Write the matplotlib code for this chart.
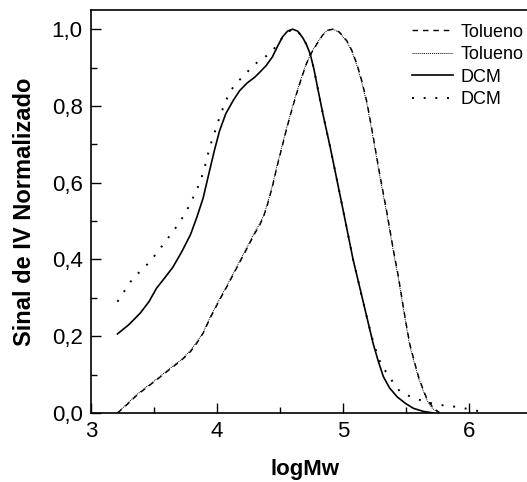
import matplotlib.pyplot as plt
from matplotlib.ticker import MultipleLocator, FuncFormatter

plt.rcParams['font.family'] = ['Liberation Sans', 'DejaVu Sans']

# DCM (linha cheia)
x_dcm1 = [3.21, 3.30, 3.39, 3.46, 3.52, 3.58, 3.65, 3.72, 3.79, 3.84, 3.89, 3.94, 3.98, 4.02,
          4.07, 4.13, 4.18, 4.24, 4.30, 4.34, 4.39, 4.44, 4.48, 4.52, 4.56, 4.60, 4.64, 4.68,
          4.71, 4.74, 4.77, 4.80, 4.84, 4.90, 4.95, 5.00, 5.04, 5.08, 5.12, 5.16, 5.20, 5.24,
          5.28, 5.32, 5.37, 5.43, 5.50, 5.56, 5.64, 5.72]
y_dcm1 = [0.206, 0.23, 0.26, 0.29, 0.325, 0.35, 0.38, 0.42, 0.465, 0.51, 0.56, 0.63, 0.685, 0.735,
          0.78, 0.815, 0.84, 0.86, 0.875, 0.888, 0.905, 0.928, 0.955, 0.98, 0.995, 1.0, 0.995, 0.978,
          0.96, 0.935, 0.895, 0.845, 0.78, 0.69, 0.61, 0.53, 0.465, 0.40, 0.345, 0.29, 0.235, 0.18,
          0.135, 0.095, 0.065, 0.042, 0.024, 0.012, 0.004, 0.0]

# DCM (pontilhado)
x_dcm2 = [3.21, 3.27, 3.33, 3.40, 3.47, 3.54, 3.61, 3.66, 3.71, 3.78, 3.83, 3.87, 3.91, 3.94,
          3.98, 4.02, 4.06, 4.10, 4.15, 4.20, 4.26, 4.32, 4.37, 4.42, 4.46, 4.50, 4.55, 4.60,
          4.64, 4.68, 4.71, 4.74, 4.77, 4.80, 4.84, 4.90, 4.95, 5.00, 5.04, 5.08, 5.12, 5.16,
          5.20, 5.24, 5.28, 5.31, 5.36, 5.40, 5.45, 5.52, 5.59, 5.68, 5.77, 5.90, 6.00, 6.09]
y_dcm2 = [0.29, 0.32, 0.35, 0.372, 0.395, 0.425, 0.455, 0.477, 0.50, 0.54, 0.575, 0.605, 0.65, 0.69,
          0.73, 0.77, 0.805, 0.836, 0.858, 0.875, 0.895, 0.914, 0.925, 0.937, 0.952, 0.97, 0.99, 1.0,
          0.995, 0.978, 0.96, 0.935, 0.895, 0.845, 0.78, 0.69, 0.61, 0.53, 0.465, 0.40, 0.345, 0.29,
          0.235, 0.185, 0.145, 0.12, 0.10, 0.078, 0.057, 0.045, 0.036, 0.027, 0.021, 0.016, 0.01, 0.004]

# Tolueno (tracejado)
x_tol1 = [3.21, 3.28, 3.36, 3.44, 3.52, 3.58, 3.65, 3.72, 3.79, 3.84, 3.89, 3.95, 4.02, 4.08,
          4.16, 4.24, 4.30, 4.34, 4.37, 4.40, 4.44, 4.47, 4.51, 4.55, 4.59, 4.63, 4.67, 4.71, 4.75,
          4.79, 4.84, 4.88, 4.92, 4.97, 5.03, 5.07, 5.11, 5.15, 5.19, 5.24, 5.29, 5.35, 5.40,
          5.44, 5.47, 5.50, 5.53, 5.57, 5.60, 5.64, 5.67, 5.72, 5.77]
y_tol1 = [0.0, 0.02, 0.045, 0.066, 0.086, 0.102, 0.12, 0.138, 0.16, 0.182, 0.208, 0.25, 0.294, 0.33,
          0.38, 0.43, 0.468, 0.49, 0.512, 0.542, 0.59, 0.633, 0.685, 0.737, 0.785, 0.83, 0.872, 0.91,
          0.938, 0.96, 0.985, 0.997, 1.0, 0.993, 0.97, 0.945, 0.91, 0.865, 0.81, 0.72, 0.625, 0.52,
          0.425, 0.355, 0.294, 0.235, 0.18, 0.13, 0.094, 0.058, 0.034, 0.012, 0.0]

# Tolueno (pontilhado fino)
x_tol2 = [3.21, 3.28, 3.36, 3.44, 3.52, 3.58, 3.65, 3.72, 3.79, 3.84, 3.89, 3.95, 4.02, 4.08,
          4.16, 4.24, 4.30, 4.34, 4.37, 4.40, 4.44, 4.47, 4.51, 4.55, 4.59, 4.63, 4.67, 4.71, 4.75,
          4.79, 4.84, 4.88, 4.92, 4.97, 5.03, 5.07, 5.11, 5.15, 5.19, 5.24, 5.29, 5.35, 5.40,
          5.44, 5.47, 5.50, 5.53, 5.57, 5.60, 5.64, 5.67, 5.71, 5.76]
y_tol2 = [0.0, 0.022, 0.047, 0.068, 0.088, 0.104, 0.122, 0.14, 0.163, 0.185, 0.21, 0.253, 0.297, 0.333,
          0.383, 0.433, 0.472, 0.494, 0.515, 0.545, 0.593, 0.636, 0.688, 0.74, 0.788, 0.833, 0.874,
          0.912, 0.94, 0.962, 0.986, 0.998, 1.0, 0.992, 0.968, 0.942, 0.906, 0.86, 0.805, 0.715, 0.62,
          0.515, 0.42, 0.35, 0.29, 0.23, 0.175, 0.126, 0.09, 0.055, 0.031, 0.012, 0.0]

fig = plt.figure(figsize=(5.27, 4.82), dpi=100)
ax = fig.add_axes([91 / 527, 69 / 482, 1 - 91 / 527, 403 / 482])

ax.plot(x_tol1, y_tol1, color='black', lw=1.0, dashes=(4, 3.5), label='Tolueno')
ax.plot(x_tol2, y_tol2, color='black', lw=0.7, dashes=(1, 1), label='Tolueno')
ax.plot(x_dcm1, y_dcm1, color='black', lw=1.2, label='DCM')
ax.plot(x_dcm2, y_dcm2, color='black', lw=1.4, dashes=(1, 5), label='DCM')

ax.set_xlim(3, 3 + 436 / 126)
ax.set_ylim(0, 1.05)
ax.spines['right'].set_visible(False)
for s in ['left', 'top', 'bottom']:
    ax.spines[s].set_linewidth(1.2)

ax.xaxis.set_major_locator(MultipleLocator(1))
ax.xaxis.set_minor_locator(MultipleLocator(0.5))
ax.yaxis.set_major_locator(MultipleLocator(0.2))
ax.yaxis.set_minor_locator(MultipleLocator(0.1))
ax.yaxis.set_major_formatter(FuncFormatter(lambda v, p: f'{v:.1f}'.replace('.', ',')))
ax.tick_params(which='major', direction='in', length=7, width=1, labelsize=16)
ax.tick_params(axis='x', pad=6)
ax.tick_params(axis='y', pad=6)
ax.tick_params(which='minor', direction='in', length=4, width=1)

ax.set_xlabel('logMw', fontsize=16, fontweight='bold')
ax.xaxis.set_label_coords(0.5 - 4 / 436, -0.115)
ax.set_ylabel('Sinal de IV Normalizado', fontsize=17, fontweight='bold', labelpad=11)

ax.legend(loc='upper right', frameon=False, fontsize=13, handlelength=2.3,
          handletextpad=0.4, labelspacing=0.3, borderaxespad=0, borderpad=0.2,
          bbox_to_anchor=(1.0, 0.975))

fig.savefig('out.png', dpi=100)
